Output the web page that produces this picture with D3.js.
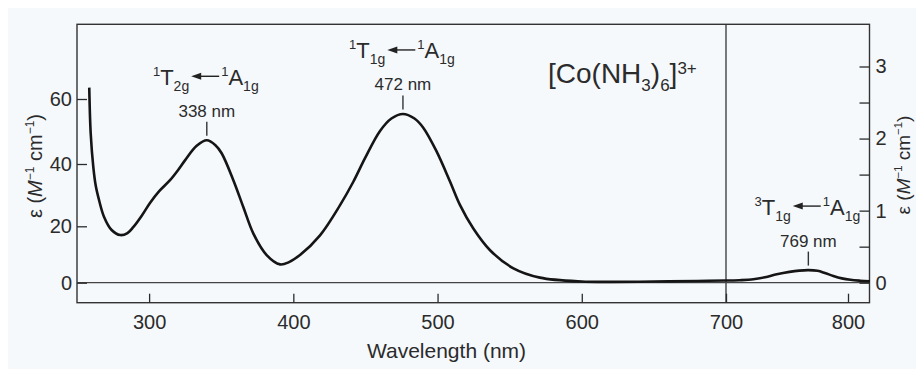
<!DOCTYPE html>
<html>
<head>
<meta charset="utf-8">
<script src="https://cdn.jsdelivr.net/npm/d3@7"></script>
<style>
  html, body { margin: 0; padding: 0; background: #ffffff; }
  svg { display: block; }
</style>
</head>
<body>
<script>
// UV-vis part (left axis, 250-700 nm)
const uvWavelength = [258.5, 259.5, 261.3, 263, 265.3, 268.7, 274, 280, 285, 289, 295, 300.6, 307, 314.5, 320, 325, 333, 340, 346, 350.3, 358.4, 365.3, 372.3, 381.5, 390.8, 397, 404.6, 418.5, 432.4, 441.6, 449.7, 460, 468, 476, 484, 490.2, 499.4, 508.7, 515.6, 524.8, 536.4, 552.6, 571, 600, 620, 650, 680, 700];
const uvEpsilon = [63.5, 49.4, 39.1, 33, 28.4, 23.1, 18.7, 16.9, 17.6, 19.7, 23.5, 27.5, 31.3, 34.8, 38, 41.2, 45.6, 47.3, 45.8, 43.3, 34.8, 26.2, 17.4, 9.8, 6.5, 7.3, 9.8, 16.8, 26.8, 34.3, 41.8, 50.1, 54, 55.4, 54, 51.1, 43.8, 34.3, 26.8, 19.2, 11.5, 5.1, 1.8, 0.4, 0.3, 0.4, 0.6, 0.8];

// near-IR part (right axis, 700-818 nm)
const nirWavelength = [700, 711, 722.4, 732, 741.6, 752, 760, 767.5, 775, 781, 788, 795, 802, 809.8, 818];
const nirEpsilon = [0.03, 0.035, 0.047, 0.075, 0.116, 0.15, 0.168, 0.175, 0.165, 0.135, 0.093, 0.06, 0.04, 0.028, 0.02];

const leftTicks = [0, 20, 40, 60];
const rightTicks = [0, 0.5, 1, 1.5, 2, 2.5, 3];
const bottomTicksUV = [300, 400, 500, 600];
const bottomTicksNIR = [700, 800];

const bandLabels = ["338 nm", "472 nm", "769 nm"];
const bandPeakNm = [340, 476, 767.5];
const bandPeakEps = [47.3, 55.4, 0.175];
const bandUpper = [["1", "T", "2g"], ["1", "T", "1g"], ["3", "T", "1g"]];
const bandLower = ["1", "A", "1g"];

const FONT = "'Liberation Sans', Arial, Helvetica, sans-serif";
const INK = "#2b2b2b";

const width = 916, height = 369;
const frame = { left: 77, right: 869.5, top: 24.3, bottom: 302.7 };

const svg = d3.select("body").append("svg")
    .attr("width", width)
    .attr("height", height)
    .attr("viewBox", `0 0 ${width} ${height}`);

svg.append("rect")
    .attr("x", 8).attr("y", 8)
    .attr("width", width - 8).attr("height", height - 8)
    .attr("fill", "#f5f9fc");

// Scales: two panels sharing the frame
const xUV = d3.scaleLinear().domain([250, 700]).range([frame.left, 726]);
const xNIR = d3.scaleLinear().domain([700, 800]).range([726, 848]);
const yUV = d3.scaleLinear().domain([0, 20, 40, 60]).range([282.7, 226.3, 164, 99]);
const yNIR = d3.scaleLinear().domain([0, 3]).range([282.7, 66.5]);

// Frame, divider and zero line
svg.append("rect")
    .attr("x", frame.left).attr("y", frame.top)
    .attr("width", frame.right - frame.left)
    .attr("height", frame.bottom - frame.top)
    .attr("fill", "none")
    .attr("stroke", "#333")
    .attr("stroke-width", 1.4);

svg.append("line")
    .attr("x1", xUV(700)).attr("x2", xUV(700))
    .attr("y1", frame.top).attr("y2", frame.bottom)
    .attr("stroke", "#333")
    .attr("stroke-width", 1.3);

svg.append("line")
    .attr("x1", frame.left).attr("x2", frame.right)
    .attr("y1", yUV(0)).attr("y2", yUV(0))
    .attr("stroke", "#444")
    .attr("stroke-width", 1.2);

// Axes (ticks point inwards)
function styleAxis(g, size) {
    g.select(".domain").remove();
    g.attr("font-family", FONT).attr("font-size", size).style("color", INK);
    g.selectAll(".tick line").attr("stroke-width", 1.3);
}

svg.append("g")
    .attr("transform", `translate(0,${frame.bottom})`)
    .call(d3.axisBottom(xUV).tickValues(bottomTicksUV).tickSizeInner(-9).tickSizeOuter(0).tickPadding(12))
    .call(g => styleAxis(g, 20));

svg.append("g")
    .attr("transform", `translate(0,${frame.bottom})`)
    .call(d3.axisBottom(xNIR).tickValues(bottomTicksNIR).tickSizeInner(-9).tickSizeOuter(0).tickPadding(12))
    .call(g => styleAxis(g, 20));

svg.append("g")
    .attr("transform", `translate(${frame.left},0)`)
    .call(d3.axisLeft(yUV).tickValues(leftTicks).tickSizeInner(-10).tickSizeOuter(0).tickPadding(5))
    .call(g => styleAxis(g, 20));

svg.append("g")
    .attr("transform", `translate(${frame.right},0)`)
    .call(d3.axisRight(yNIR).tickValues(rightTicks).tickSizeInner(-10).tickSizeOuter(0).tickPadding(6)
        .tickFormat(d => Number.isInteger(d) ? d : ""))
    .call(g => styleAxis(g, 20));

// Axis titles
svg.append("text")
    .attr("x", 446.5).attr("y", 358)
    .attr("text-anchor", "middle")
    .attr("font-family", FONT).attr("font-size", 21)
    .attr("fill", INK)
    .text("Wavelength (nm)");

function epsTitle(x, y, size) {
    const t = svg.append("text")
        .attr("transform", `translate(${x},${y}) rotate(-90)`)
        .attr("text-anchor", "middle")
        .attr("font-family", FONT).attr("font-size", size)
        .attr("fill", INK);
    t.append("tspan").text("ε (");
    t.append("tspan").attr("font-style", "italic").text("M");
    t.append("tspan").attr("font-size", size * 0.6).attr("dy", -8).text("−1");
    t.append("tspan").attr("dy", 8).text(" cm");
    t.append("tspan").attr("font-size", size * 0.6).attr("dy", -8).text("−1");
    t.append("tspan").attr("dy", 8).text(")");
}
epsTitle(42, 166, 20);
epsTitle(910, 165, 19);

// Spectrum
const lineUV = d3.line()
    .x(d => xUV(d[0]))
    .y(d => yUV(d[1]))
    .curve(d3.curveCatmullRom.alpha(0.5));

const lineNIR = d3.line()
    .x(d => xNIR(d[0]))
    .y(d => yNIR(d[1]))
    .curve(d3.curveCatmullRom.alpha(0.5));

svg.append("path")
    .datum(d3.zip(uvWavelength, uvEpsilon))
    .attr("fill", "none")
    .attr("stroke", "#151515")
    .attr("stroke-width", 2.6)
    .attr("stroke-linejoin", "round")
    .attr("d", lineUV);

svg.append("path")
    .datum(d3.zip(nirWavelength, nirEpsilon))
    .attr("fill", "none")
    .attr("stroke", "#151515")
    .attr("stroke-width", 2.6)
    .attr("stroke-linejoin", "round")
    .attr("d", lineNIR);

// Compound name
const title = svg.append("text")
    .attr("x", 548).attr("y", 83)
    .attr("font-family", FONT).attr("font-size", 28)
    .attr("fill", INK);
title.append("tspan").text("[Co(NH");
title.append("tspan").attr("font-size", 17).attr("dy", 8).text("3");
title.append("tspan").attr("dy", -8).text(")");
title.append("tspan").attr("font-size", 17).attr("dy", 8).text("6");
title.append("tspan").attr("dy", -8).text("]");
title.append("tspan").attr("font-size", 17).attr("dy", -9).text("3+");

// Band annotations
function stateText(g, parts) {
    const t = g.append("text")
        .attr("font-family", FONT).attr("font-size", 22)
        .attr("fill", INK);
    t.append("tspan").attr("font-size", 13).attr("dy", -9).text(parts[0]);
    t.append("tspan").attr("dy", 9).text(parts[1]);
    t.append("tspan").attr("font-size", 14).attr("dy", 6).text(parts[2]);
    return t;
}

bandLabels.forEach((label, i) => {
    const nir = bandPeakNm[i] > 700;
    const cx = nir ? xNIR(bandPeakNm[i]) : xUV(bandPeakNm[i]);
    const py = nir ? yNIR(bandPeakEps[i]) : yUV(bandPeakEps[i]);
    const tickBottom = py - 4.5;
    const tickTop = tickBottom - 14;

    svg.append("line")
        .attr("x1", cx).attr("x2", cx)
        .attr("y1", tickTop).attr("y2", tickBottom)
        .attr("stroke", "#333")
        .attr("stroke-width", 1.4);

    svg.append("text")
        .attr("x", cx).attr("y", tickTop - 5)
        .attr("text-anchor", "middle")
        .attr("font-family", FONT).attr("font-size", 17)
        .attr("fill", INK)
        .text(label);

    const baseline = tickTop - 37;
    const g = svg.append("g");
    const left = stateText(g, bandUpper[i]);
    const right = stateText(g, bandLower);
    const wL = left.node().getComputedTextLength();
    const wR = right.node().getComputedTextLength();
    const arrowLen = 28;
    const total = wL + 2 + arrowLen + 2 + wR;
    const x0 = cx - total / 2 - 1;
    left.attr("x", x0).attr("y", baseline);
    right.attr("x", x0 + wL + 4 + arrowLen).attr("y", baseline);

    const ay = baseline - 8.5;
    const tip = x0 + wL + 2;
    g.append("line")
        .attr("x1", tip + 7).attr("x2", tip + arrowLen)
        .attr("y1", ay).attr("y2", ay)
        .attr("stroke", "#222")
        .attr("stroke-width", 1.4);
    g.append("path")
        .attr("d", `M${tip},${ay} L${tip + 10},${ay - 3.5} L${tip + 10},${ay + 3.5} Z`)
        .attr("fill", "#222");
});
</script>
</body>
</html>
